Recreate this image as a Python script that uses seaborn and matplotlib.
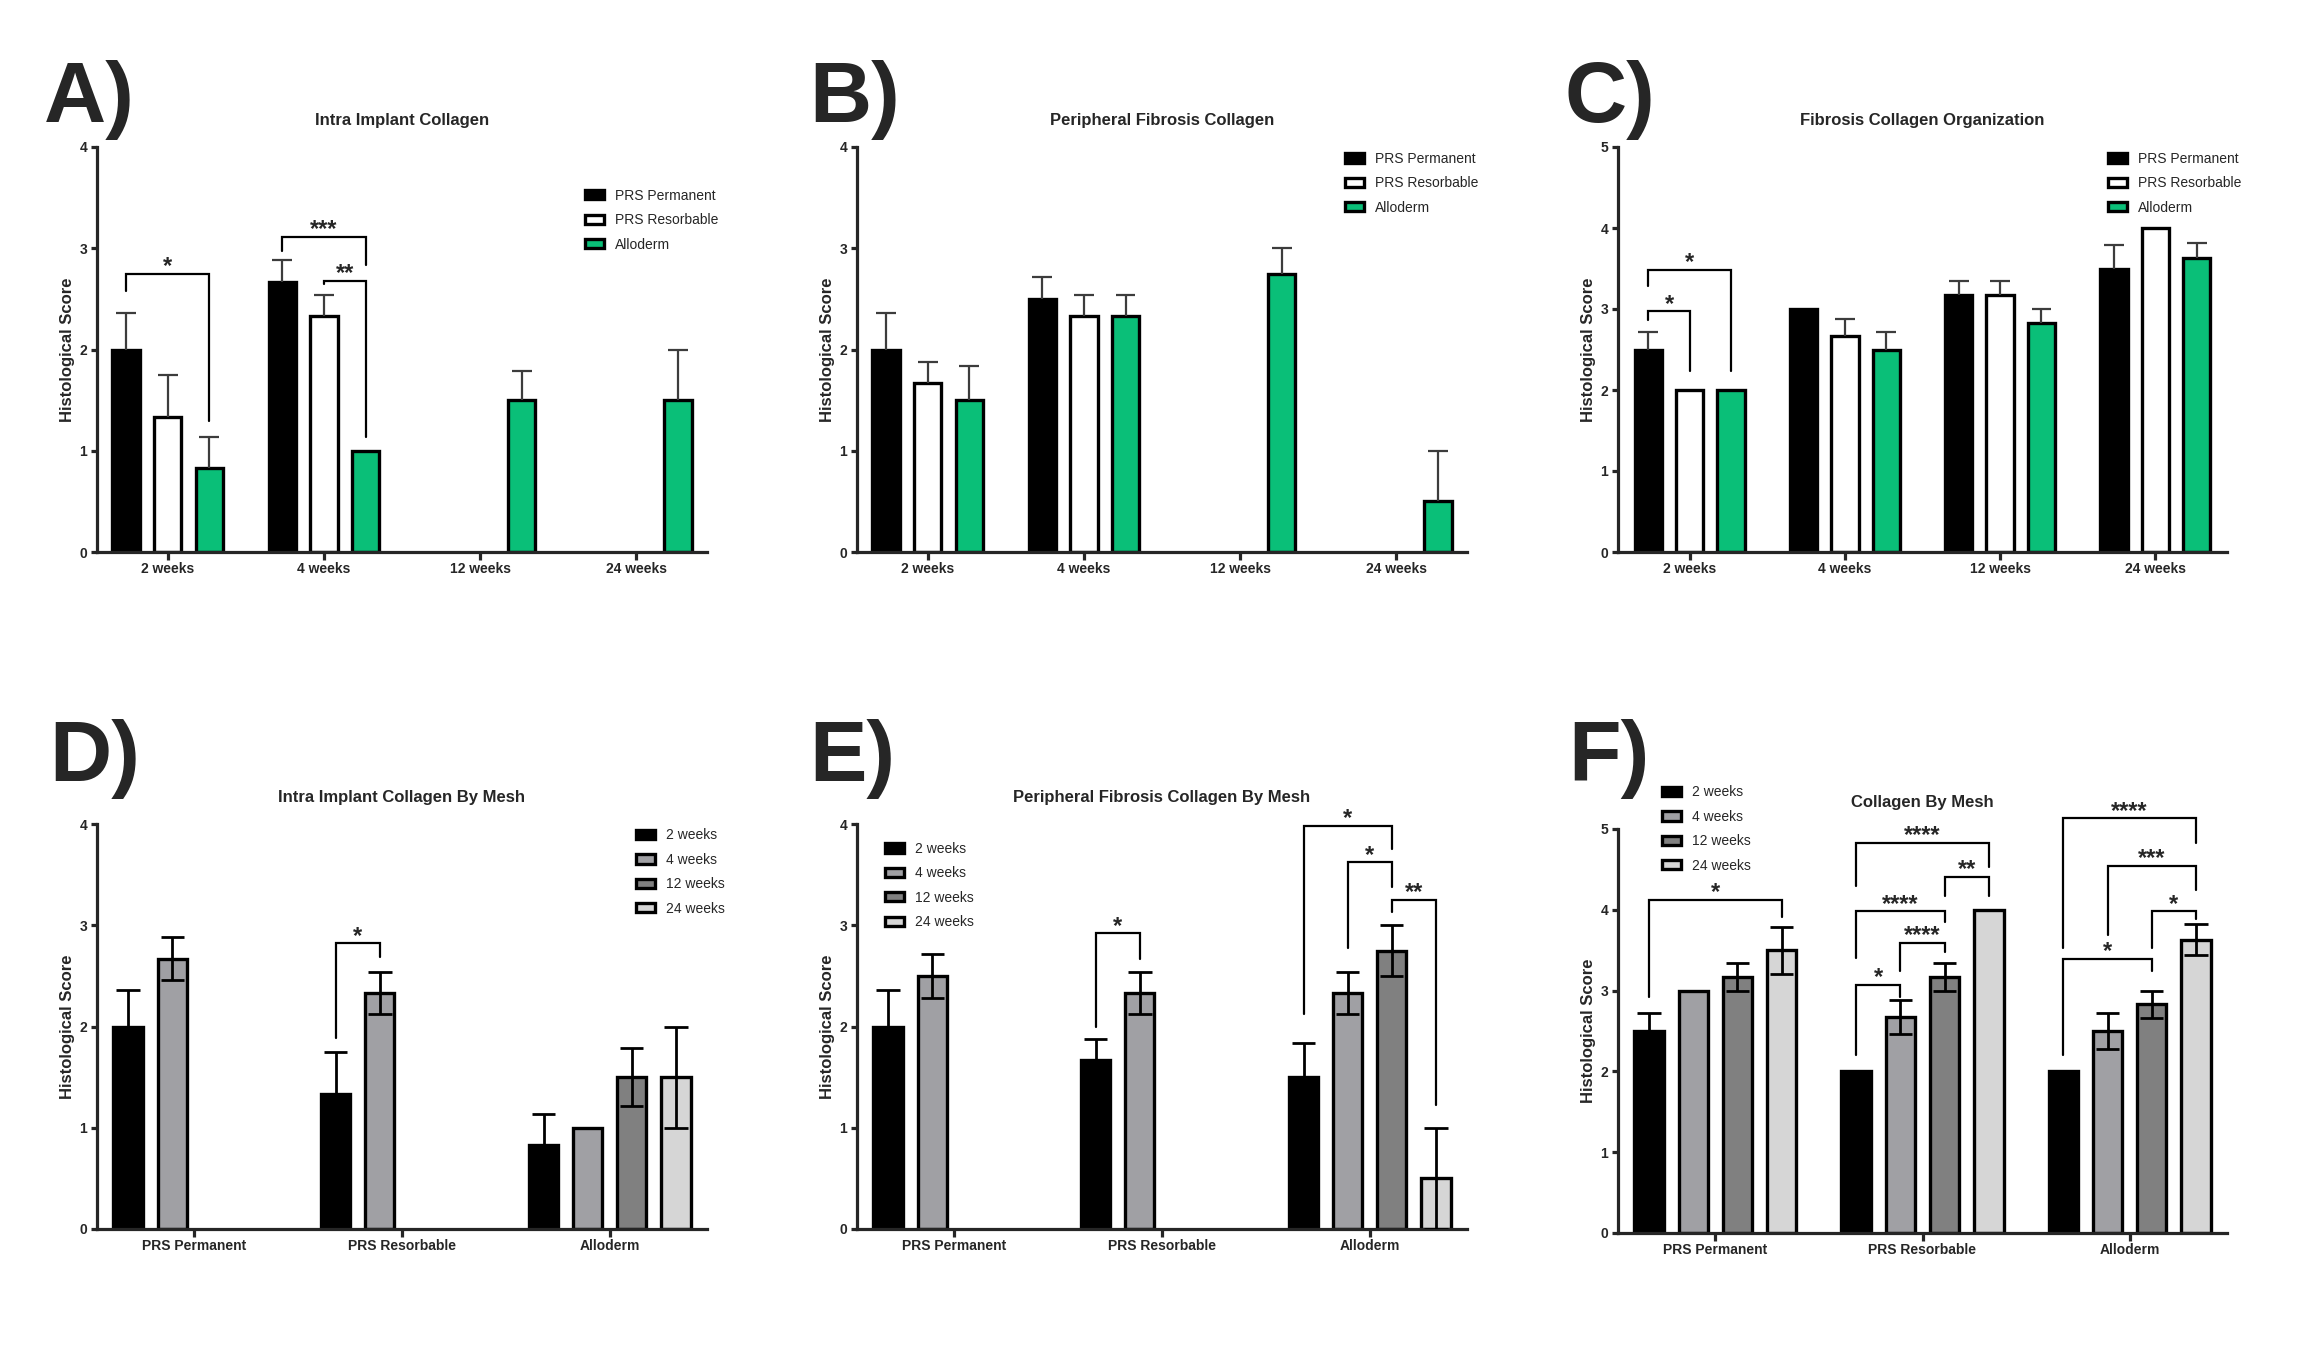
import numpy as np
import pandas as pd
import matplotlib
matplotlib.use("Agg")
import matplotlib.pyplot as plt
import seaborn as sns

# categories
weeks = ['2 weeks', '4 weeks', '12 weeks', '24 weeks']
meshes = ['PRS Permanent', 'PRS Resorbable', 'Alloderm']

# Intra implant collagen (panels A and D): mean and SEM, one value per week
intra_perm = [2.0, 2.67, np.nan, np.nan]
intra_perm_sem = [0.36, 0.21, np.nan, np.nan]
intra_res = [1.33, 2.33, np.nan, np.nan]
intra_res_sem = [0.42, 0.21, np.nan, np.nan]
intra_allo = [0.83, 1.0, 1.5, 1.5]
intra_allo_sem = [0.31, 0.0, 0.29, 0.5]

# Peripheral fibrosis collagen (panels B and E)
peri_perm = [2.0, 2.5, np.nan, np.nan]
peri_perm_sem = [0.36, 0.22, np.nan, np.nan]
peri_res = [1.67, 2.33, np.nan, np.nan]
peri_res_sem = [0.21, 0.21, np.nan, np.nan]
peri_allo = [1.5, 2.33, 2.75, 0.5]
peri_allo_sem = [0.34, 0.21, 0.25, 0.5]

# Fibrosis collagen organization (panels C and F)
org_perm = [2.5, 3.0, 3.17, 3.5]
org_perm_sem = [0.22, 0.0, 0.17, 0.29]
org_res = [2.0, 2.67, 3.17, 4.0]
org_res_sem = [0.0, 0.21, 0.17, 0.0]
org_allo = [2.0, 2.5, 2.83, 3.63]
org_allo_sem = [0.0, 0.22, 0.17, 0.19]

# significance brackets: (group1, hue1, group2, hue2, bracket y, left leg end, right leg end, stars)
sig_a = [('2 weeks', 'PRS Permanent', '2 weeks', 'Alloderm', 2.75, 2.58, 1.29, '*'),
         ('4 weeks', 'PRS Permanent', '4 weeks', 'Alloderm', 3.11, 2.97, 2.83, '***'),
         ('4 weeks', 'PRS Resorbable', '4 weeks', 'Alloderm', 2.68, 2.65, 1.14, '**')]
sig_b = []
sig_c = [('2 weeks', 'PRS Permanent', '2 weeks', 'PRS Resorbable', 2.97, 2.86, 2.24, '*'),
         ('2 weeks', 'PRS Permanent', '2 weeks', 'Alloderm', 3.48, 3.29, 2.24, '*')]
sig_d = [('PRS Resorbable', '2 weeks', 'PRS Resorbable', '4 weeks', 2.82, 1.89, 2.69, '*')]
sig_e = [('PRS Resorbable', '2 weeks', 'PRS Resorbable', '4 weeks', 2.92, 2.0, 2.67, '*'),
         ('Alloderm', '2 weeks', 'Alloderm', '12 weeks', 3.98, 2.12, 3.75, '*'),
         ('Alloderm', '4 weeks', 'Alloderm', '12 weeks', 3.62, 2.78, 3.38, '*'),
         ('Alloderm', '12 weeks', 'Alloderm', '24 weeks', 3.25, 3.13, 1.22, '**')]
sig_f = [('PRS Permanent', '2 weeks', 'PRS Permanent', '24 weeks', 4.12, 2.92, 3.91, '*'),
         ('PRS Resorbable', '2 weeks', 'PRS Resorbable', '4 weeks', 3.07, 2.2, 2.92, '*'),
         ('PRS Resorbable', '4 weeks', 'PRS Resorbable', '12 weeks', 3.59, 3.24, 3.48, '****'),
         ('PRS Resorbable', '2 weeks', 'PRS Resorbable', '12 weeks', 3.98, 3.4, 3.85, '****'),
         ('PRS Resorbable', '12 weeks', 'PRS Resorbable', '24 weeks', 4.41, 4.17, 4.17, '**'),
         ('PRS Resorbable', '2 weeks', 'PRS Resorbable', '24 weeks', 4.83, 4.3, 4.53, '****'),
         ('Alloderm', '2 weeks', 'Alloderm', '12 weeks', 3.39, 2.2, 3.24, '*'),
         ('Alloderm', '12 weeks', 'Alloderm', '24 weeks', 3.98, 3.53, 3.88, '*'),
         ('Alloderm', '4 weeks', 'Alloderm', '24 weeks', 4.54, 3.69, 4.25, '***'),
         ('Alloderm', '2 weeks', 'Alloderm', '24 weeks', 5.13, 3.53, 4.83, '****')]

mesh_colors = {'PRS Permanent': '#000000', 'PRS Resorbable': '#ffffff', 'Alloderm': '#0abf78'}
week_colors = {'2 weeks': '#000000', '4 weeks': '#a0a0a4', '12 weeks': '#808080', '24 weeks': '#d6d6d6'}


def make_df(perm, perm_sem, res, res_sem, allo, allo_sem):
    rows = []
    for mesh, vals, sems in [(meshes[0], perm, perm_sem), (meshes[1], res, res_sem), (meshes[2], allo, allo_sem)]:
        for w, v, s in zip(weeks, vals, sems):
            rows.append({'week': w, 'mesh': mesh, 'score': v, 'sem': s})
    return pd.DataFrame(rows).dropna()


df_intra = make_df(intra_perm, intra_perm_sem, intra_res, intra_res_sem, intra_allo, intra_allo_sem)
df_peri = make_df(peri_perm, peri_perm_sem, peri_res, peri_res_sem, peri_allo, peri_allo_sem)
df_org = make_df(org_perm, org_perm_sem, org_res, org_res_sem, org_allo, org_allo_sem)

sns.set_style('ticks')
plt.rcParams['font.family'] = ['Liberation Sans', 'DejaVu Sans']

fig = plt.figure(figsize=(23.07, 13.5), dpi=100)
W, H = 2307, 1350


def add_ax(left, top, right, bottom):
    return fig.add_axes([left / W, 1 - bottom / H, (right - left) / W, (bottom - top) / H])


def draw(ax, df, group, hue, order, hue_order, palette, ymax, title, two_sided, sigs,
         leg_xy, width, xpad):
    sns.barplot(data=df, x=group, y='score', hue=hue, order=order, hue_order=hue_order,
                palette=palette, edgecolor='black', linewidth=2.4, width=width, gap=0.34,
                errorbar=None, legend=False, saturation=1, ax=ax)
    centers = {}
    err_col = '#000000' if two_sided else '#3c3c3c'
    err_lw = 2.0 if two_sided else 1.6
    for lev, cont in zip(hue_order, ax.containers):
        sub = df[df[hue] == lev].copy()
        sub['_o'] = sub[group].map(order.index)
        sub = sub.sort_values('_o')
        for bar, (_, r) in zip(cont.patches, sub.iterrows()):
            cx = bar.get_x() + bar.get_width() / 2
            centers[(r[group], lev)] = cx
            if r['sem'] > 0:
                lo = r['score'] - r['sem'] if two_sided else r['score']
                hi = r['score'] + r['sem']
                cap = bar.get_width() * (0.40 if two_sided else 0.36)
                ax.vlines(cx, lo, hi, color=err_col, lw=err_lw, zorder=3)
                ax.hlines(hi, cx - cap, cx + cap, color=err_col, lw=err_lw, zorder=3)
                if two_sided:
                    ax.hlines(lo, cx - cap, cx + cap, color=err_col, lw=err_lw, zorder=3)

    for g1, h1, g2, h2, yb, y1, y2, lab in sigs:
        x1 = centers[(g1, h1)]
        x2 = centers[(g2, h2)]
        ax.plot([x1, x1, x2, x2], [y1, yb, yb, y2], color='black', lw=1.6,
                clip_on=False, zorder=4, solid_joinstyle='miter')
        ax.annotate(lab, xy=((x1 + x2) / 2, yb), xytext=(0, 0.5), textcoords='offset points',
                    ha='center', va='baseline', fontsize=17, fontweight='bold', annotation_clip=False)

    ax.set_ylim(0, ymax)
    ax.set_xlim(-xpad, len(order) - 1 + xpad)
    ax.set_yticks(range(ymax + 1))
    sns.despine(ax=ax)
    for s in ['left', 'bottom']:
        ax.spines[s].set_linewidth(2.3)
    ax.tick_params(axis='y', width=2.3, length=4.5, labelsize=10, pad=2.5)
    ax.tick_params(axis='x', width=2.3, length=5.8, labelsize=10, pad=1.5)
    for lab in ax.get_xticklabels() + ax.get_yticklabels():
        lab.set_fontweight('bold')
    ax.set_xlabel('')
    ax.set_ylabel('Histological Score', fontsize=12, fontweight='bold')
    ax.yaxis.set_label_coords(-0.036, 0.5)
    ax.set_title(title, fontsize=12, fontweight='bold', pad=16)
    ax.legend(handles=list(ax.containers[:len(hue_order)]), labels=hue_order,
              loc='upper left', bbox_to_anchor=leg_xy, frameon=False, fontsize=10,
              handlelength=1.35, handleheight=0.65, labelspacing=0.75, handletextpad=0.8,
              borderpad=0, borderaxespad=0)


ax_a = add_ax(97, 147, 707, 552)
ax_b = add_ax(857, 147, 1467, 552)
ax_c = add_ax(1618, 147, 2227, 552)
ax_d = add_ax(97, 824, 707, 1229)
ax_e = add_ax(857, 824, 1467, 1229)
ax_f = add_ax(1618, 829, 2227, 1233)

draw(ax_a, df_intra, 'week', 'mesh', weeks, meshes, mesh_colors, 4, 'Intra Implant Collagen',
     False, sig_a, (0.80, 0.897), 0.8, 0.453)
draw(ax_b, df_peri, 'week', 'mesh', weeks, meshes, mesh_colors, 4, 'Peripheral Fibrosis Collagen',
     False, sig_b, (0.80, 0.988), 0.8, 0.453)
draw(ax_c, df_org, 'week', 'mesh', weeks, meshes, mesh_colors, 5, 'Fibrosis Collagen Organization',
     False, sig_c, (0.805, 0.988), 0.8, 0.462)
draw(ax_d, df_intra, 'mesh', 'week', meshes, weeks, week_colors, 4, 'Intra Implant Collagen By Mesh',
     True, sig_d, (0.884, 0.989), 0.85, 0.468)
draw(ax_e, df_peri, 'mesh', 'week', meshes, weeks, week_colors, 4, 'Peripheral Fibrosis Collagen By Mesh',
     True, sig_e, (0.046, 0.956), 0.85, 0.468)
draw(ax_f, df_org, 'mesh', 'week', meshes, weeks, week_colors, 5, 'Collagen By Mesh',
     True, sig_f, (0.072, 1.108), 0.855, 0.47)

# panel letters
for lab, x, y in [('A)', 44, 122), ('B)', 809, 122), ('C)', 1565, 122),
                  ('D)', 49, 781), ('E)', 809, 781), ('F)', 1568, 781)]:
    fig.text(x / W, 1 - y / H, lab, fontsize=62, fontweight='bold', ha='left', va='baseline')

fig.savefig('out.png', dpi=100, facecolor='white')
